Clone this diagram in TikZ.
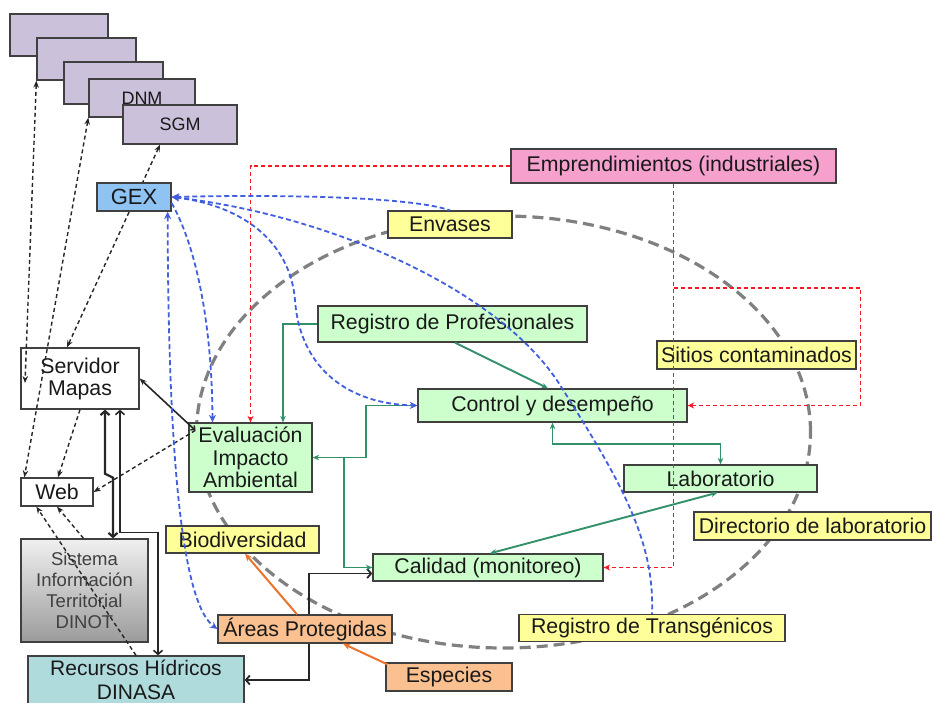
\documentclass[tikz,border=0pt]{standalone}
\usepackage{fontspec}
\setmainfont{Liberation Sans}
\usetikzlibrary{arrows.meta,calc}
\pgfdeclarelayer{bg}
\pgfsetlayers{bg,main}
\definecolor{purpF}{RGB}{204,193,218}
\definecolor{gexF}{RGB}{142,195,243}
\definecolor{pinkF}{RGB}{245,160,205}
\definecolor{yellowF}{RGB}{255,255,153}
\definecolor{greenF}{RGB}{204,255,204}
\definecolor{orangeF}{RGB}{250,192,144}
\definecolor{tealF}{RGB}{176,219,221}
\definecolor{sistT}{RGB}{240,240,240}
\definecolor{sistB}{RGB}{155,155,155}
\definecolor{bordc}{RGB}{64,64,64}
\definecolor{txtc}{RGB}{25,25,25}
\definecolor{greenL}{RGB}{50,145,105}
\definecolor{orangeL}{RGB}{235,115,45}
\definecolor{redL}{RGB}{245,25,35}
\definecolor{blueL}{RGB}{65,95,220}
\definecolor{grayE}{RGB}{128,128,128}
\tikzset{
  tipK/.tip={Stealth[length=7pt,width=5.5pt]},
  tipG/.tip={Stealth[length=6.5pt,width=5.5pt]},
  tipR/.tip={Stealth[length=6.5pt,width=6pt]},
  tipB/.tip={Stealth[length=7.5pt,width=7pt]},
  tipO/.tip={Stealth[length=7.5pt,width=6.5pt]},
  tipW/.tip={Straight Barb[length=4pt,width=9pt]},
  tipV/.tip={Straight Barb[length=3pt,width=6pt]},
}
\begin{document}
\begin{tikzpicture}[x=1pt,y=-1pt,
  box/.style={draw=bordc, line width=1.3pt, inner sep=0pt, align=center,
    font=\fontsize{21.3}{22.5}\selectfont, text=txtc},
  kd/.style={draw=black!85, line width=1.4pt, dash pattern=on 4pt off 3pt},
  ks/.style={draw=black!85, line width=1.6pt},
  gl/.style={draw=greenL, line width=1.9pt},
  ol/.style={draw=orangeL, line width=2pt},
  rl/.style={draw=redL, line width=1.9pt, dash pattern=on 4pt off 3pt},
  bl/.style={draw=blueL, line width=1.8pt, dash pattern=on 5pt off 3pt},
  ell/.style={draw=grayE, line width=3.2pt, dash pattern=on 11pt off 6pt},
]
\useasboundingbox (0,0) rectangle (932,702);

% purple stacked boxes
\node[box, fill=purpF, minimum width=98pt, minimum height=42pt] (p1) at (59,35) {};
\node[box, fill=purpF, minimum width=99pt, minimum height=42pt] (p2) at (86.5,59) {};
\node[box, fill=purpF, minimum width=99pt, minimum height=42pt] (p3) at (113.5,83) {};
\node[box, fill=purpF, minimum width=106pt, minimum height=38pt, font=\fontsize{18}{20}\selectfont] (p4) at (142,98) {DNM};
\node[box, fill=purpF, minimum width=114pt, minimum height=39pt, font=\fontsize{18}{20}\selectfont] (sgm) at (180,124.5) {SGM};

\node[box, fill=gexF, minimum width=74pt, minimum height=28pt, font=\fontsize{22}{23}\selectfont] (gex) at (134,197) {GEX};
\node[box, fill=pinkF, minimum width=325pt, minimum height=34pt] (emp) at (673.5,166) {Emprendimientos (industriales)};
\node[box, fill=yellowF, minimum width=124pt, minimum height=27pt] (env) at (450,224.5) {Envases};
\node[box, fill=greenF, minimum width=269pt, minimum height=36pt] (prof) at (452.5,324) {Registro de Profesionales};
\node[box, fill=yellowF, minimum width=199pt, minimum height=28pt] (sitios) at (756.5,355) {Sitios contaminados};
\node[box, fill=white, minimum width=118pt, minimum height=61pt, font=\fontsize{21.3}{22}\selectfont] (serv) at (80,378.5) {Servidor\\Mapas};
\node[box, fill=greenF, minimum width=269pt, minimum height=33pt] (ctrl) at (552.5,405.5) {Control y desempeño};
\node[box, fill=greenF, minimum width=123pt, minimum height=69pt] (eval) at (250.5,457.5) {Evaluación\\Impacto\\Ambiental};
\node[box, fill=greenF, minimum width=193pt, minimum height=27pt] (lab) at (720.5,478.5) {Laboratorio};
\node[box, fill=white, minimum width=72pt, minimum height=28pt] (web) at (57,492) {Web};
\node[box, fill=yellowF, minimum width=237pt, minimum height=28pt] (dir) at (812.5,526) {Directorio de laboratorio};
\node[box, fill=yellowF, minimum width=153pt, minimum height=27pt] (bio) at (242.5,539.5) {Biodiversidad};
\node[box, top color=sistT, bottom color=sistB, minimum width=127pt, minimum height=103pt,
  font=\fontsize{18.5}{21}\selectfont, text=black!75] (sist) at (84.5,590.5) {Sistema\\Información\\Territorial\\DINOT};
\node[box, fill=greenF, minimum width=230pt, minimum height=27pt] (cal) at (488,567.5) {Calidad (monitoreo)};
\node[box, fill=orangeF, minimum width=174pt, minimum height=28pt] (areas) at (305,629) {Áreas Protegidas};
\node[box, fill=yellowF, minimum width=266pt, minimum height=27pt] (trans) at (652,628) {Registro de Transgénicos};
\node[box, fill=tealF, minimum width=216pt, minimum height=48pt, font=\fontsize{21}{23.5}\selectfont] (rec) at (136,680) {Recursos Hídricos\\DINASA};
\node[box, fill=orangeF, minimum width=126pt, minimum height=28pt] (esp) at (449,677) {Especies};

\coordinate (c1) at (25,383);

% background layer: white page, ellipse and hidden connectors
\begin{pgfonlayer}{bg}
\fill[white] (0,0) rectangle (932,702);
\draw[ell] (503.5,432) ellipse [x radius=307pt, y radius=216pt];
\draw[kd, tipK-tipK] ([xshift=-20pt]sgm.south) -- ([xshift=-13pt]serv.north);
\draw[ks, line width=1.8pt, tipW-tipW] (rec.east) -- ++(64,0) |- ([yshift=-6pt]cal.west);
\end{pgfonlayer}

% black dashed
\draw[kd, tipK-tipK] (p2.south west) -- (c1);
\draw[kd, tipK-tipK] (p4.south west) -- ([xshift=4pt]web.north west);
\draw[kd, -tipK] (serv.south) -- ([xshift=1pt]web.north);
\draw[kd, -tipK] ([xshift=-1pt]sist.north) -- (web.south);
\draw[kd, -tipK] (rec.north) -- ([xshift=16pt]web.south west);
\draw[kd, -tipK] ($(eval.north west)+(7,8)$) -- (web.east);

% black solid
\draw[ks, tipK-tipV] (serv.east) -- ($(eval.north west)+(7,8)$);
\draw[ks, line width=2.2pt, tipW-tipW] ([xshift=25pt]serv.south) -- ++(0,64) -- ++(8,4) -- ([xshift=28.5pt]sist.north);
\draw[ks, line width=1.6pt, tipW-tipW] ([xshift=40pt]serv.south) -- ++(0,123) -| ([xshift=22pt]rec.north);

% green
\draw[gl, -tipG] (prof.west) -| ([xshift=32.5pt]eval.north);
\draw[gl, -tipG] ([xshift=2.5pt]prof.south) -- ([xshift=-4.5pt]ctrl.north);
\draw[gl, tipG-tipG] (eval.east) -- ++(53,0) |- (ctrl.west);
\draw[gl, -tipG] ($(eval.east)+(31,0)$) |- (cal.west);
\draw[gl, tipG-tipG] (ctrl.south) -- ++(0,21) -| (lab.north);
\draw[gl, tipG-tipG] ([xshift=-3pt]lab.south) -- ([xshift=2pt]cal.north);

% orange
\draw[ol, -tipO] ([xshift=-8pt]areas.north) -- ([xshift=2.5pt]bio.south);
\draw[ol, -tipO] ($(esp.north west)+(2,2)$) -- ([xshift=38pt]areas.south);

% red dashed
\draw[rl, -tipR] (emp.west) -| (eval.north);
\draw[rl, -tipR] (emp.south) |- (cal.east);
\draw[rl, -tipR] ($(emp.south)+(0,104)$) -- ++(187,0) |- (ctrl.east);

% blue dashed
\draw[bl, tipB-] (gex.east) .. controls (300,194) and (415,198) .. (env.north);
\draw[bl, -tipB] ($(gex.east)+(0,6)$) .. controls (198,250) and (212,330) .. ([xshift=-38pt]eval.north);
\draw[bl, tipB-tipB] (gex.east) .. controls (240,205) and (290,240) .. (295,300) .. controls (300,370) and (350,404) .. (ctrl.west);
\draw[bl, tipB-] (gex.east) .. controls (330,215) and (500,290) .. (560,385) .. controls (620,480) and (655,540) .. (trans.north);
\draw[bl, tipB-tipB] ([xshift=-4pt]gex.south east) .. controls (168,420) and (178,600) .. (areas.west);
\end{tikzpicture}
\end{document}
